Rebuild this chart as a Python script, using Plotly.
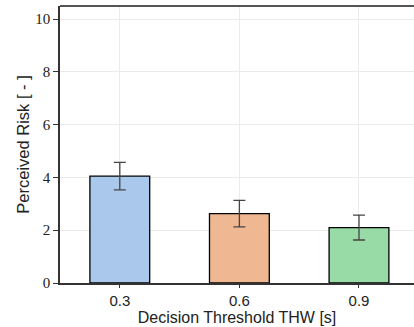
import plotly.graph_objects as go

categories = ["0.3", "0.6", "0.9"]
means = [4.05, 2.63, 2.1]
errors = [0.52, 0.5, 0.47]
colors = ["#aac8ec", "#f0b892", "#98dba6"]
yticks = [0, 2, 4, 6, 8, 10]

fig = go.Figure()
fig.add_trace(go.Bar(
    x=[0, 1, 2], y=means, width=0.5,
    marker=dict(color=colors, line=dict(color="black", width=1.3)),
    error_y=dict(type="data", array=errors, color="#444444", thickness=1.3, width=6),
))
fig.update_layout(
    width=414, height=327,
    margin=dict(l=60, r=0, t=6, b=44),
    plot_bgcolor="white", paper_bgcolor="white",
    showlegend=False,
    xaxis=dict(
        range=[-0.5, 2.46], tickvals=[0, 1, 2], ticktext=categories,
        showgrid=True, gridcolor="#ebebeb", gridwidth=1,
        showline=True, linecolor="#333333", linewidth=1.5, mirror=False,
        ticks="outside", ticklen=3, tickcolor="#333333",
        tickfont=dict(family="Liberation Sans", size=15, color="#222"),
        title=dict(text="Decision Threshold THW [s]", standoff=0,
                   font=dict(family="Liberation Sans", size=16, color="#222")),
        zeroline=False,
    ),
    yaxis=dict(
        range=[0, 10.5], tickvals=yticks,
        showgrid=True, gridcolor="#ebebeb", gridwidth=1,
        showline=True, linecolor="#333333", linewidth=1.5,
        ticks="outside", ticklen=5, tickcolor="#333333",
        tickfont=dict(family="Liberation Serif", size=15, color="#222"),
        title=dict(text="Perceived Risk [ - ]", standoff=1,
                   font=dict(family="Liberation Sans", size=16.5, color="#222")),
        zeroline=False,
    ),
)
fig.add_shape(type="line", xref="paper", yref="paper", x0=0, x1=1, y0=1, y1=1,
              line=dict(color="#555555", width=2))
fig.write_html("out.html")
